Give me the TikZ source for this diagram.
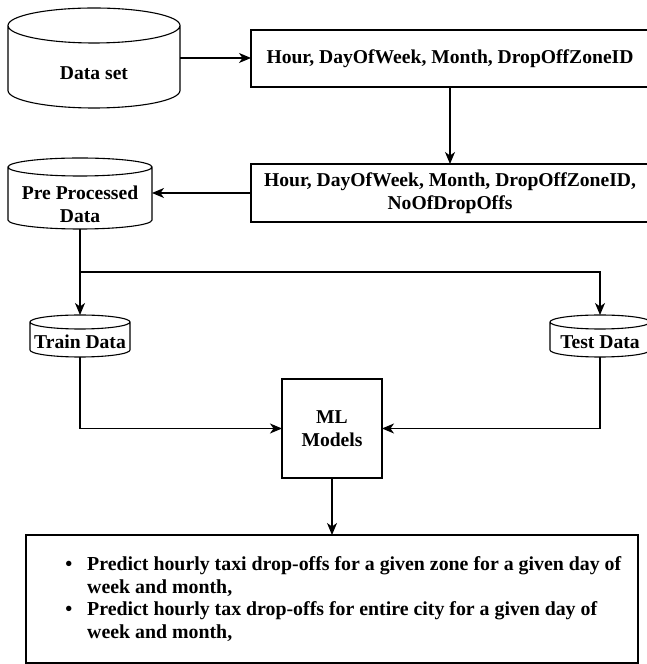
\documentclass[tikz,border=0pt]{standalone}
\usepackage{fontspec}
\setmainfont{Liberation Serif}
\usetikzlibrary{arrows.meta,calc}
\tikzset{
  txt/.style={font=\fontsize{19.6}{22.6}\selectfont\bfseries, inner sep=0pt, align=center},
  boxnode/.style={draw, line width=1.1pt, inner sep=0pt, outer sep=0pt, align=center,
    font=\fontsize{19.6}{22.6}\selectfont\bfseries},
  cylnode/.style={draw=none, inner sep=0pt, outer sep=0pt},
  arr/.style={line width=1.1pt, -{Stealth[length=12pt,width=10pt,inset=3.5pt]}},
  ln/.style={line width=1.1pt}
}
\newcommand{\cylout}[2]{%
  \draw[ln] let \p1=(#1.north west), \p2=(#1.south east), \n1={(\x2-\x1)/2} in
    ([yshift=-#2]#1.north west) -- ([yshift=#2]#1.south west)
    arc[start angle=180,end angle=360,x radius=\n1,y radius=#2]
    -- ([yshift=-#2]#1.north east)
    ([yshift=-#2]#1.north) ellipse[x radius=\n1, y radius=#2];
}
\begin{document}
\begin{tikzpicture}[x=1pt,y=1pt]
\useasboundingbox (0,0) rectangle (647,664);
% cylinders
\node[cylnode, minimum width=172pt, minimum height=100pt] (ds) at (94,606) {};
\cylout{ds}{17.5pt}
\node[txt] (dst) at (94,591) {Data set};

\node[cylnode, minimum width=144pt, minimum height=71pt] (pp) at (80,470.5) {};
\cylout{pp}{9pt}
\node[txt] (ppt) at (80,459.5) {Pre Processed\\Data};

\node[cylnode, minimum width=100pt, minimum height=42pt] (tr) at (80,328) {};
\cylout{tr}{7pt}
\node[txt] (trt) at (80,322) {Train Data};

\node[cylnode, minimum width=100pt, minimum height=42pt] (te) at (600,328) {};
\cylout{te}{7pt}
\node[txt] (tet) at (600,322) {Test Data};

% boxes
\node[boxnode, minimum width=398pt, minimum height=57pt] (b1) at (450,605.5) {Hour, DayOfWeek, Month, DropOffZoneID};
\node[boxnode, minimum width=398pt, minimum height=58pt] (b2) at (450,471) {Hour, DayOfWeek, Month, DropOffZoneID,\\NoOfDropOffs};
\node[boxnode, minimum width=100pt, minimum height=99pt] (ml) at (332,235.5) {ML\\Models};
\node[boxnode, minimum width=612pt, minimum height=128pt] (out) at (332,65) {};
\node[txt, font=\fontsize{19.85}{22.7}\selectfont\bfseries, align=left, anchor=west] (outt) at (87,65) {%
\makebox[0pt][r]{\textbullet\hspace{15pt}}Predict hourly taxi drop-offs for a given zone for a given day of\\
week and month,\\
\makebox[0pt][r]{\textbullet\hspace{15pt}}Predict hourly tax drop-offs for entire city for a given day of\\
week and month,};

% connectors
\coordinate (split) at (80,392);
\draw[arr] (ds.east) -- (ds.east -| b1.west);
\draw[arr] (b1.south) -- (b2.north);
\draw[arr] (b2.west) -- (b2.west -| pp.east);
\draw[arr] (pp.south) -- (tr.north);
\draw[arr] (split) -| (te.north);
\draw[arr] (tr.south) |- (ml.west);
\draw[arr] (te.south) |- (ml.east);
\draw[arr] (ml.south) -- (out.north);
\end{tikzpicture}
\end{document}
